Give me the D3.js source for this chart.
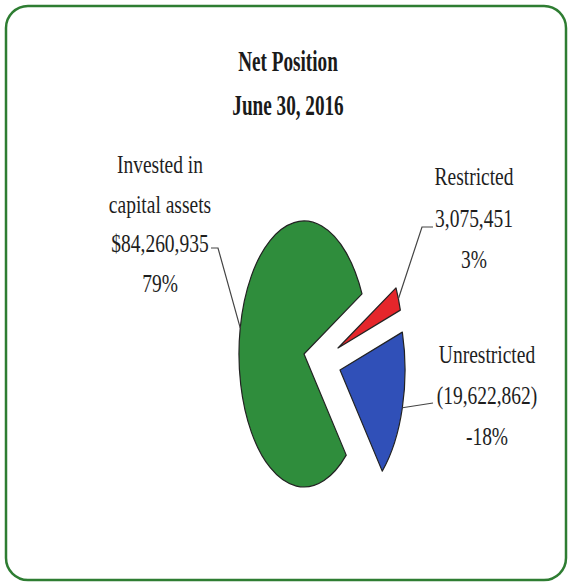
<!DOCTYPE html>
<html>
<head>
<meta charset="utf-8">
<script src="https://cdn.jsdelivr.net/npm/d3@7"></script>
<style>
  html, body { margin: 0; padding: 0; background: #ffffff; }
  svg { display: block; }
</style>
</head>
<body>
<script>
// ---- data ----
const categories = ["Invested in capital assets", "Restricted", "Unrestricted"];
const nameLines = [["Invested in", "capital assets"], ["Restricted"], ["Unrestricted"]];
const amounts = [84260935, 3075451, -19622862];
const amountLabels = ["$84,260,935", "3,075,451", "(19,622,862)"];
const percentLabels = ["79%", "3%", "-18%"];
const titleLines = ["Net Position", "June 30, 2016"];

// ---- layout / style ----
const W = 572, H = 584;
const colors = ["#2f8d3c", "#e5262b", "#3050b8"];
const center = [304, 354];
const R = 133;          // vertical radius
const kx = 0.489;       // horizontal squeeze of the pie
const startDeg = 139.5;
const explode = [[0, 0], [34, -6], [36, 16]];
const labelLayout = [
  { x: 160, y: 173, dy: 39.5, path: [[211, 248], [218, 248]] },
  { x: 474, y: 185, dy: 41.5, path: [[433, 227], [422, 227]] },
  { x: 487, y: 363, dy: 41,   path: [[433, 403]] }
];

const svg = d3.select("body").append("svg")
  .attr("width", W).attr("height", H);

// frame
svg.append("rect")
  .attr("x", 6).attr("y", 6).attr("width", W - 12).attr("height", H - 10)
  .attr("rx", 22).attr("ry", 22)
  .attr("fill", "#fff").attr("stroke", "#2e7d32").attr("stroke-width", 2.5);

// title
svg.append("g").selectAll("text").data(titleLines).join("text")
  .attr("transform", (d, i) => `translate(288,${71 + i * 44}) scale(0.64,1)`)
  .attr("text-anchor", "middle")
  .attr("font-family", "'Liberation Serif', 'Times New Roman', serif")
  .attr("font-weight", "bold")
  .attr("font-size", 30)
  .attr("fill", "#1a1a1a")
  .text(d => d);

// pie
const pie = d3.pie().sort(null).value(d => Math.abs(d))
  .startAngle(startDeg * Math.PI / 180)
  .endAngle(startDeg * Math.PI / 180 + 2 * Math.PI);
const arcs = pie(amounts);
const arc = d3.arc().innerRadius(0).outerRadius(R);

const slices = svg.append("g").selectAll("g.slice").data(arcs).join("g")
  .attr("class", "slice")
  .attr("transform", (d, i) => `translate(${center[0] + explode[i][0]},${center[1] + explode[i][1]}) scale(${kx},1)`);
slices.append("path")
  .attr("d", arc)
  .attr("fill", (d, i) => colors[i])
  .attr("stroke", "#222")
  .attr("stroke-width", 1.2)
  .attr("vector-effect", "non-scaling-stroke")
  .attr("stroke-linejoin", "round");

// leader lines
const anchor = (d, i) => {
  const a = (d.startAngle + d.endAngle) / 2;
  return [center[0] + explode[i][0] + R * kx * Math.sin(a),
          center[1] + explode[i][1] - R * Math.cos(a)];
};
svg.append("g").selectAll("path").data(arcs).join("path")
  .attr("d", (d, i) => d3.line()([anchor(d, i), ...labelLayout[i].path.slice().reverse()]))
  .attr("fill", "none")
  .attr("stroke", "#444")
  .attr("stroke-width", 1.2);

// labels
const labelG = svg.append("g")
  .attr("font-family", "'Liberation Serif', 'Times New Roman', serif")
  .attr("font-size", 26)
  .attr("fill", "#1e1e1e");
categories.forEach((c, i) => {
  const lines = [...nameLines[i], amountLabels[i], percentLabels[i]];
  const L = labelLayout[i];
  labelG.append("g").selectAll("text").data(lines).join("text")
    .attr("transform", (d, j) => `translate(${L.x},${L.y + j * L.dy}) scale(0.75,1)`)
    .attr("text-anchor", "middle")
    .text(d => d);
});
</script>
</body>
</html>
